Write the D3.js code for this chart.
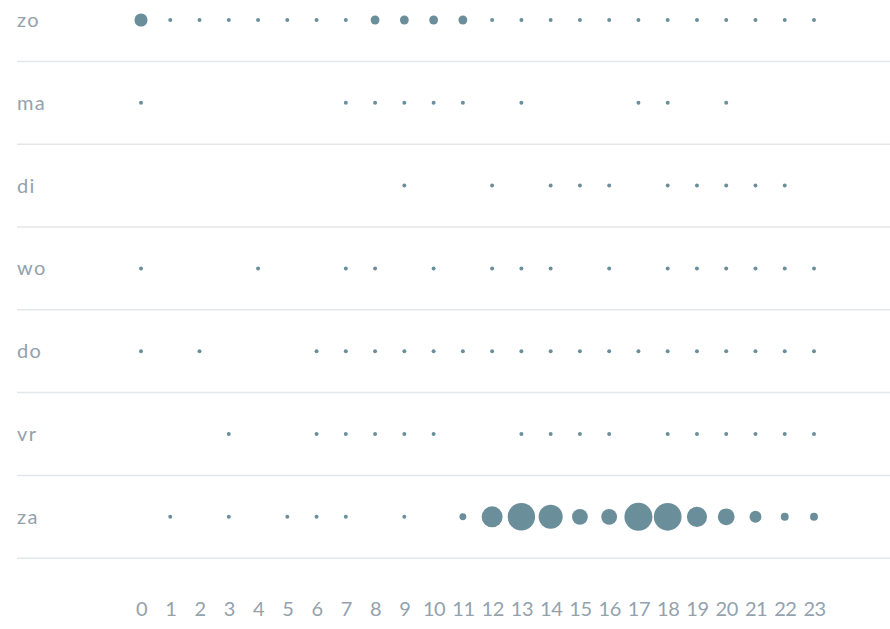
<!DOCTYPE html>
<html>
<head>
<meta charset="utf-8">
<script src="https://cdn.jsdelivr.net/npm/d3@7"></script>
<style>
  html, body { margin: 0; padding: 0; background: #fff; }
  svg { display: block; }
  text { font-family: Lato, "Open Sans", sans-serif; font-weight: 400; }
</style>
</head>
<body>
<svg id="chart" width="890" height="629"></svg>
<script>
const days = ["zo", "ma", "di", "wo", "do", "vr", "za"];
const hours = ["0","1","2","3","4","5","6","7","8","9","10","11","12","13","14","15","16","17","18","19","20","21","22","23"];

// counts per hour (0..23), 0 = no dot
const zo = [11,1,1,1,1,1,1,1,5,5,5,5,1,1,1,1,1,1,1,1,1,1,1,1];
const ma = [1,0,0,0,0,0,0,1,1,1,1,1,0,1,0,0,0,1,1,0,1,0,0,0];
const di = [0,0,0,0,0,0,0,0,0,1,0,0,1,0,1,1,1,0,1,1,1,1,1,0];
const wo = [1,0,0,0,1,0,0,1,1,0,1,0,1,1,1,0,1,0,1,1,1,1,1,1];
const dO = [1,0,1,0,0,0,1,1,1,1,1,1,1,1,1,1,1,1,1,1,1,1,1,1];
const vr = [0,0,0,1,0,0,1,1,1,1,1,0,0,1,1,1,1,0,1,1,1,1,1,1];
const za = [0,1,0,1,0,1,1,1,0,1,0,3,28,48,37,16,16,50,49,26,18,9,4,4];

const seriesList = [zo, ma, di, wo, dO, vr, za];

const svg = d3.select("#chart");
const W = 890;

const x = d3.scalePoint().domain(hours).range([141, 814]);
const rowH = 82.8;
const y = d3.scaleBand().domain(days).range([20 - rowH / 2, 20 - rowH / 2 + rowH * days.length]).padding(0);
const r = d3.scaleSqrt().domain([0, 50]).range([0, 14]);

const labelColor = "#93a2ac";
const dotColor = "#6b8e9b";

// separator lines (below each row)
svg.append("g").selectAll("line")
  .data(days)
  .join("line")
  .attr("x1", 17).attr("x2", W)
  .attr("y1", d => y(d) + y.bandwidth())
  .attr("y2", d => y(d) + y.bandwidth())
  .attr("stroke", "#e4e7e9")
  .attr("stroke-width", 1.5);

// row labels
svg.append("g").selectAll("text")
  .data(days)
  .join("text")
  .attr("x", 17)
  .attr("y", d => y(d) + y.bandwidth() / 2)
  .attr("dy", "0.35em")
  .attr("fill", labelColor)
  .attr("font-size", 20)
  .attr("letter-spacing", 1.4)
  .text(d => d);

// dots
const cells = [];
days.forEach((d, i) => {
  seriesList[i].forEach((v, h) => {
    if (v > 0) cells.push({ day: d, hour: hours[h], value: v });
  });
});

svg.append("g").selectAll("circle")
  .data(cells)
  .join("circle")
  .attr("cx", d => x(d.hour))
  .attr("cy", d => y(d.day) + y.bandwidth() / 2)
  .attr("r", d => r(d.value))
  .attr("fill", dotColor);

// x axis
const axis = d3.axisBottom(x).tickSize(0).tickPadding(0);
const gx = svg.append("g").attr("transform", "translate(0,602)").call(axis);
gx.select(".domain").remove();
gx.selectAll("text")
  .attr("fill", labelColor)
  .attr("font-size", 20)
  .attr("font-weight", 400)
  .attr("letter-spacing", -0.5)
  .attr("font-family", "Lato, 'Open Sans', sans-serif");
</script>
</body>
</html>
